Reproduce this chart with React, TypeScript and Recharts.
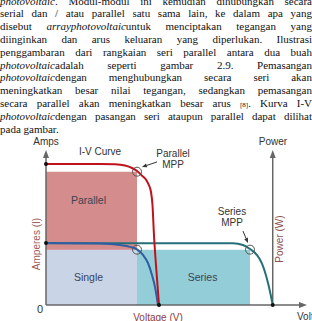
import React from 'react';
import {
  ComposedChart, XAxis, YAxis, Line, ReferenceArea, ReferenceDot, ReferenceLine, Scatter,
} from 'recharts';

// ---- paragraph text (document page) ----
const paragraphLines: { parts: { t: string; i?: boolean; s?: boolean }[]; last?: boolean }[] = [
  { parts: [{ t: 'photovoltaic', i: true }, { t: '. Modul-modul ini kemudian dihubungkan secara' }] },
  { parts: [{ t: 'serial dan / atau parallel satu sama lain, ke dalam apa yang' }] },
  { parts: [{ t: 'disebut ' }, { t: 'arrayphotovoltaic', i: true }, { t: 'untuk menciptakan tegangan yang' }] },
  { parts: [{ t: 'diinginkan dan arus keluaran yang diperlukan. Ilustrasi' }] },
  { parts: [{ t: 'penggambaran dari rangkaian seri parallel antara dua buah' }] },
  { parts: [{ t: 'photovoltaic', i: true }, { t: 'adalah seperti gambar 2.9. Pemasangan' }] },
  { parts: [{ t: 'photovoltaic', i: true }, { t: 'dengan menghubungkan secara seri akan' }] },
  { parts: [{ t: 'meningkatkan besar nilai tegangan, sedangkan pemasangan' }] },
  { parts: [{ t: 'secara parallel akan meningkatkan besar arus ' }, { t: '[8]', s: true }, { t: '. Kurva I-V' }] },
  { parts: [{ t: 'photovoltaic', i: true }, { t: 'dengan pasangan seri ataupun parallel dapat dilihat' }] },
  { parts: [{ t: 'pada gambar.' }], last: true },
];

// ---- chart data (voltage V, current A) ----
const parallelV = [0, 6.21, 7.93, 9.08, 9.89, 10.46, 11.03, 11.72, 12.07, 12.24, 12.41, 12.64, 12.99];
const parallelI = [9.1, 9.1, 9.08, 9.0, 8.84, 8.65, 8.35, 7.87, 7.29, 6.45, 4.52, 2.58, 0];
const singleV = [0, 6.21, 8.51, 9.66, 10.46, 11.15, 11.72, 12.18, 12.53, 12.87];
const singleI = [4.0, 3.97, 3.87, 3.75, 3.59, 3.23, 2.71, 1.94, 1.16, 0];
const seriesV = [0, 17.7, 21.49, 22.64, 23.45, 24.22, 24.79, 25.37, 25.83, 26.06];
const seriesI = [3.98, 3.98, 3.98, 3.87, 3.61, 3.24, 2.72, 1.74, 0.65, 0];

const mppNames = ['Parallel', 'Single', 'Series'];
const mppV = [10.46, 10.46, 23.45];
const mppI = [8.6, 3.57, 3.57];
const boxStartV = [0, 0, 10.46];

// annotation arrows (label -> MPP circle)
const arrowFromV = [12.76, 22.64];
const arrowFromI = [9.23, 4.77];
const arrowToV = [11.03, 23.22];
const arrowToI = [8.9, 4.0];

const voltDomain = [0, 30];
const ampDomain = [0, 10];
const yTicks = [0];

const zip = (v: number[], i: number[]) => v.map((x, k) => ({ v: x, i: i[k] }));
const parallelData = zip(parallelV, parallelI);
const singleData = zip(singleV, singleI);
const seriesData = zip(seriesV, seriesI);
const endDots = [
  { v: 0, i: parallelI[0] },
  { v: 0, i: singleI[0] },
  { v: parallelV[parallelV.length - 1], i: 0 },
  { v: seriesV[seriesV.length - 1], i: 0 },
];

const boxFill = ['#d48c8c', '#c9d4e6', '#93cdd8'];
const boxLabelDx = [-3, -3, 9];
const boxLabelDy = [-38, 0, 0];

const SANS = '"Liberation Sans", Arial, sans-serif';
const SERIF = '"Liberation Serif", "Times New Roman", serif';

// line with an arrowhead; mode: 'up' | 'right' | 'end'
function arrowShape(mode: string, color: string, width: number, headL: number, headW: number) {
  return (p: any) => {
    let { x1, y1, x2, y2 } = p;
    if (x1 == null || y1 == null) return null;
    if (mode === 'up' && y2 > y1) { [x1, y1, x2, y2] = [x2, y2, x1, y1]; }
    if (mode === 'right' && x2 < x1) { [x1, y1, x2, y2] = [x2, y2, x1, y1]; }
    const dx = x2 - x1, dy = y2 - y1;
    const len = Math.sqrt(dx * dx + dy * dy) || 1;
    const ux = dx / len, uy = dy / len;
    const bx = x2 - ux * headL, by = y2 - uy * headL;
    const px = -uy * headW / 2, py = ux * headW / 2;
    return (
      <g>
        <line x1={x1} y1={y1} x2={bx} y2={by} stroke={color} strokeWidth={width} />
        <polygon points={`${x2},${y2} ${bx + px},${by + py} ${bx - px},${by - py}`} fill={color} />
      </g>
    );
  };
}

export default function App() {
  const lineH = 12.8;
  const lastCenter = 129;
  return (
    <div style={{ position: 'fixed', left: 0, top: 0, width: 312, height: 321, overflow: 'hidden', background: '#fff' }}>
      <ComposedChart width={312} height={321} margin={{ top: 150, right: 5, bottom: 16, left: 46 }}
        style={{ position: 'absolute', left: 0, top: 0 }}>
        <XAxis type="number" dataKey="v" domain={voltDomain} height={0} tick={false} tickLine={false} axisLine={false} />
        <YAxis type="number" dataKey="i" domain={ampDomain} width={0} ticks={yTicks} tick={false} tickLine={false} axisLine={false} />
        {mppNames.map((n, k) => (
          <ReferenceArea key={n} x1={boxStartV[k]} x2={mppV[k]} y1={0} y2={mppI[k]}
            fill={boxFill[k]} fillOpacity={1} stroke="none" ifOverflow="visible"
            label={{ value: n, position: 'center', dx: boxLabelDx[k], dy: boxLabelDy[k], fill: '#3b4452', fontSize: 10.5, fontFamily: SANS }} />
        ))}
        <ReferenceLine y={ampDomain[0]} ifOverflow="visible" shape={arrowShape('right', '#666', 1.5, 8, 6)} />
        <ReferenceLine x={voltDomain[0]} ifOverflow="visible" shape={arrowShape('up', '#666', 1.5, 8, 6)} />
        <ReferenceLine x={seriesV[seriesV.length - 1]} ifOverflow="visible" shape={arrowShape('up', '#666', 1.5, 8, 6)} />
        <Line data={seriesData} dataKey="i" type="monotone" stroke="#256f78" strokeWidth={2} dot={false} isAnimationActive={false} />
        <Line data={singleData} dataKey="i" type="monotone" stroke="#2f5ea3" strokeWidth={2} dot={false} isAnimationActive={false} />
        <Line data={parallelData} dataKey="i" type="monotone" stroke="#c0121b" strokeWidth={2} dot={false} isAnimationActive={false} />
        {mppNames.map((n, k) => (
          <ReferenceDot key={'m' + n} x={mppV[k]} y={mppI[k]} r={4.5} fill="none" stroke="#555" strokeWidth={1} />
        ))}
        {arrowFromV.map((v, k) => (
          <ReferenceLine key={'a' + k} segment={[{ x: v, y: arrowFromI[k] }, { x: arrowToV[k], y: arrowToI[k] }]}
            ifOverflow="visible" shape={arrowShape('end', '#333', 1, 5, 4)} />
        ))}
        <Scatter data={endDots} dataKey="i" fill="#111" isAnimationActive={false}
          shape={(p: any) => <circle cx={p.cx} cy={p.cy} r={2} fill="#111" />} />
        <g fontFamily={SANS} fontSize={10} fill="#333">
          <text x={40} y={309} textAnchor="middle" dominantBaseline="central" fontSize={11}>{yTicks[0]}</text>
          <text x={46} y={141} textAnchor="middle" dominantBaseline="central">Amps</text>
          <text x={100} y={151} textAnchor="middle" dominantBaseline="central">I-V Curve</text>
          <text x={273} y={141} textAnchor="middle" dominantBaseline="central">Power</text>
          <text x={173} y={153} textAnchor="middle" dominantBaseline="central">Parallel</text>
          <text x={173} y={164} textAnchor="middle" dominantBaseline="central">MPP</text>
          <text x={232} y={211} textAnchor="middle" dominantBaseline="central">Series</text>
          <text x={232} y={222} textAnchor="middle" dominantBaseline="central">MPP</text>
          <text x={297} y={316} textAnchor="start" dominantBaseline="central">Voltage</text>
          <text x={158} y={317} textAnchor="middle" dominantBaseline="central" fill="#8b3b3b">Voltage (V)</text>
          <text x={36} y={244} textAnchor="middle" dominantBaseline="central" fill="#a05a5a"
            transform="rotate(-90 36 244)">Amperes (I)</text>
          <text x={279} y={239} textAnchor="middle" dominantBaseline="central" fill="#8a5050"
            transform="rotate(-90 279 239)">Power (W)</text>
        </g>
      </ComposedChart>
      {paragraphLines.map((ln, k) => {
        const center = lastCenter - (paragraphLines.length - 1 - k) * lineH;
        return (
          <div key={k} style={{
            position: 'absolute', left: 0, width: 312, top: center - lineH / 2, height: lineH,
            lineHeight: lineH + 'px', fontFamily: SERIF, fontSize: 11, color: '#111',
            textAlign: ln.last ? 'left' : 'justify', textAlignLast: ln.last ? 'left' : 'justify',
          } as React.CSSProperties}>
            {ln.parts.map((p, j) =>
              p.i ? <i key={j}>{p.t}</i> : p.s ? <span key={j} style={{ fontSize: 7 }}>{p.t}</span> : <span key={j}>{p.t}</span>
            )}
          </div>
        );
      })}
    </div>
  );
}
